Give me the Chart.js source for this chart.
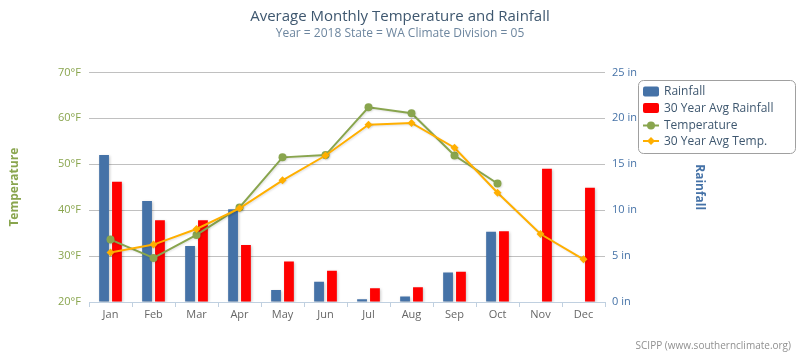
<!DOCTYPE html>
<html>
<head>
<meta charset="utf-8">
<script src="https://cdn.jsdelivr.net/npm/chart.js@4.4.1/dist/chart.umd.min.js"></script>
<style>
  html, body { margin: 0; padding: 0; background: #fff; }
  #wrap { width: 800px; height: 356px; position: relative; }
</style>
</head>
<body>
<div id="wrap"><canvas id="c" width="800" height="356"></canvas></div>
<script>
const months = ["Jan","Feb","Mar","Apr","May","Jun","Jul","Aug","Sep","Oct","Nov","Dec"];
const rainfall = [16.0, 11.0, 6.1, 10.1, 1.3, 2.2, 0.3, 0.6, 3.2, 7.65, null, null];
const rainfallAvg = [13.1, 8.9, 8.9, 6.2, 4.4, 3.4, 1.5, 1.6, 3.3, 7.7, 14.5, 12.45];
const temperature = [33.6, 29.6, 34.6, 40.6, 51.5, 52.0, 62.4, 61.1, 51.9, 45.8, null, null];
const temperatureAvg = [30.8, 32.5, 35.9, 40.4, 46.5, 51.9, 58.6, 59.0, 53.6, 43.8, 34.8, 29.3];
const tempTicks = [20, 30, 40, 50, 60, 70];
const rainTicks = [0, 5, 10, 15, 20, 25];

const FONT = "'Open Sans', 'DejaVu Sans', sans-serif";
const BLUE = "#4572A7", RED = "#FF0000", GREEN = "#89A54E", ORANGE = "#FFAF00";

const shadowPlugin = {
  id: 'shadow',
  beforeDatasetDraw(chart, args) {
    const ctx = chart.ctx;
    ctx.save();
    const type = chart.data.datasets[args.index].type;
    if (type === 'bar') {
      ctx.shadowColor = 'rgba(0,0,0,0.22)';
      ctx.shadowBlur = 3;
      ctx.shadowOffsetX = 1;
      ctx.shadowOffsetY = 1;
    } else {
      ctx.shadowColor = 'rgba(0,0,0,0.12)';
      ctx.shadowBlur = 2;
      ctx.shadowOffsetX = 1;
      ctx.shadowOffsetY = 1;
    }
  },
  afterDatasetDraw(chart) { chart.ctx.restore(); }
};

const legendPlugin = {
  id: 'customLegend',
  afterDraw(chart) {
    const ctx = chart.ctx;
    ctx.save();
    const x = 638.5, y = 80.5, w = 157, h = 73, r = 5;
    ctx.beginPath();
    ctx.roundRect(x, y, w, h, r);
    ctx.fillStyle = '#fff';
    ctx.fill();
    ctx.strokeStyle = '#A0A0A0';
    ctx.lineWidth = 1;
    ctx.stroke();
    const items = chart.data.datasets.map(d => d);
    const rows = [91.5, 108, 125.5, 141];
    ctx.font = "12px " + FONT;
    ctx.textBaseline = 'middle';
    items.forEach((d, i) => {
      const cy = rows[i];
      if (d.type === 'bar') {
        ctx.beginPath();
        ctx.roundRect(643, cy - 5, 16, 10, 2);
        ctx.fillStyle = d.backgroundColor;
        ctx.fill();
      } else {
        ctx.beginPath();
        ctx.moveTo(643, cy); ctx.lineTo(659, cy);
        ctx.strokeStyle = d.borderColor; ctx.lineWidth = 2; ctx.stroke();
        ctx.fillStyle = d.borderColor;
        ctx.beginPath();
        if (d.pointStyle === 'rectRot') {
          ctx.moveTo(651, cy - 4); ctx.lineTo(655, cy); ctx.lineTo(651, cy + 4); ctx.lineTo(647, cy);
          ctx.closePath();
        } else {
          ctx.arc(651, cy, 4, 0, Math.PI * 2);
        }
        ctx.fill();
      }
      ctx.fillStyle = '#3E576F';
      ctx.textAlign = 'left';
      ctx.fillText(d.label, 664, cy + 0.5);
    });
    ctx.font = "10px " + FONT;
    ctx.fillStyle = '#909090';
    ctx.textAlign = 'right';
    ctx.textBaseline = 'alphabetic';
    ctx.fillText('SCIPP (www.southernclimate.org)', 791, 349);
    ctx.restore();
  }
};

new Chart(document.getElementById('c'), {
  data: {
    labels: months,
    datasets: [
      { type: 'bar', label: 'Rainfall', data: rainfall, yAxisID: 'y1', backgroundColor: BLUE, order: 2,
        categoryPercentage: 0.6, barPercentage: 0.76 },
      { type: 'bar', label: '30 Year Avg Rainfall', data: rainfallAvg, yAxisID: 'y1', backgroundColor: RED, order: 2,
        categoryPercentage: 0.6, barPercentage: 0.76 },
      { type: 'line', label: 'Temperature', data: temperature, yAxisID: 'y', borderColor: GREEN, backgroundColor: GREEN,
        borderWidth: 2, pointStyle: 'circle', pointRadius: 4, pointBorderWidth: 0, tension: 0, order: 1 },
      { type: 'line', label: '30 Year Avg Temp.', data: temperatureAvg, yAxisID: 'y', borderColor: ORANGE, backgroundColor: ORANGE,
        borderWidth: 2, pointStyle: 'rectRot', pointRadius: 4, pointBorderWidth: 0, tension: 0, order: 0 }
    ]
  },
  options: {
    responsive: false,
    animation: false,
    devicePixelRatio: 1,
    layout: { padding: { left: 0, right: 0, top: 0, bottom: 0 } },
    plugins: {
      legend: { display: false },
      tooltip: { enabled: false },
      title: {
        display: true, text: 'Average Monthly Temperature and Rainfall',
        color: '#3E576F', font: { family: FONT, size: 15, weight: 'normal' },
        padding: { top: 8, bottom: 0 }
      },
      subtitle: {
        display: true, text: 'Year = 2018 State = WA Climate Division = 05',
        color: '#6D869F', font: { family: FONT, size: 12, weight: 'normal' },
        padding: { top: 0, bottom: 32 }
      }
    },
    scales: {
      x: {
        offset: true,
        grid: { offset: true, drawOnChartArea: false, drawTicks: true, tickLength: 5, color: '#C0D0E0' },
        border: { display: true, color: '#C0D0E0' },
        ticks: { color: '#666666', font: { family: FONT, size: 11 }, padding: 1, maxRotation: 0 },
        afterFit(s) { s.height = 54; }
      },
      y: {
        position: 'left', min: 20, max: 70,
        afterBuildTicks(s) { s.ticks = tempTicks.map(v => ({ value: v })); },
        grid: { color: '#C0C0C0', drawTicks: false },
        border: { display: false },
        ticks: { color: GREEN, font: { family: FONT, size: 11 }, padding: 8, callback: v => v + '°F' },
        title: { display: true, text: 'Temperature', color: GREEN, font: { family: FONT, size: 12, weight: 'bold' },
                 padding: { top: 7, bottom: 0 } },
        afterFit(s) { s.width = 89; }
      },
      y1: {
        position: 'right', min: 0, max: 25,
        afterBuildTicks(s) { s.ticks = rainTicks.map(v => ({ value: v })); },
        grid: { drawOnChartArea: false, drawTicks: false },
        border: { display: false },
        ticks: { color: BLUE, font: { family: FONT, size: 11 }, padding: 7, callback: v => v + ' in' },
        title: { display: true, text: 'Rainfall', color: BLUE, font: { family: FONT, size: 12, weight: 'bold' },
                 padding: { top: 93, bottom: 0 } },
        afterFit(s) { s.width = 195; }
      }
    }
  },
  plugins: [shadowPlugin, legendPlugin]
});
</script>
</body>
</html>
